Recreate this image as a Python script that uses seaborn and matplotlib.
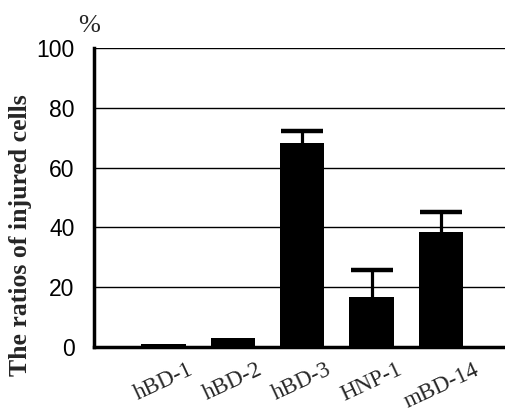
import numpy as np
import matplotlib.pyplot as plt
import seaborn as sns

peptides = ["hBD-1", "hBD-2", "hBD-3", "HNP-1", "mBD-14"]
ratios = [1.0, 3.0, 68.3, 16.7, 38.3]
upper_err = [0.0, 0.0, 4.0, 9.0, 7.0]
yticks = [0, 20, 40, 60, 80, 100]

sns.set_style("white")
plt.rcParams["font.family"] = ["Liberation Sans", "DejaVu Sans"]

fig = plt.figure(figsize=(5.05, 4.17), dpi=100)
ax = fig.add_axes([0.186, 0.168, 0.814, 0.717])

sns.barplot(x=peptides, y=ratios, color="black", width=0.64,
            edgecolor="black", linewidth=0, ax=ax, zorder=3)

# upper error bars only
x = np.arange(len(peptides))
tops = np.array(ratios) + np.array(upper_err)
mask = np.array(upper_err) > 0
ax.vlines(x[mask], np.array(ratios)[mask], tops[mask], color="black",
          linewidth=2.3, zorder=4)
ax.hlines(tops[mask], x[mask] - 0.3, x[mask] + 0.3, color="black",
          linewidth=3.2, zorder=4)

ax.set_ylim(0, 100)
ax.set_xlim(-1.0, 4.92)
ax.set_yticks(yticks)
ax.yaxis.grid(True, color="black", linewidth=1.0, zorder=0)
ax.set_axisbelow(True)

for side in ["top", "right"]:
    ax.spines[side].set_visible(False)
for side in ["left", "bottom"]:
    ax.spines[side].set_linewidth(2.5)
    ax.spines[side].set_color("black")

ax.tick_params(axis="y", labelsize=16.5, length=0, pad=14, colors="black")
ax.tick_params(axis="x", length=0, pad=9)
for lbl in ax.get_xticklabels():
    lbl.set_fontfamily("Liberation Serif")
    lbl.set_fontsize(16.5)
    lbl.set_rotation(25)
    lbl.set_ha("center")
    lbl.set_rotation_mode("default")

ax.set_ylabel("The ratios of injured cells", fontfamily="Liberation Serif",
              fontweight="bold", fontsize=18.5)
ax.yaxis.set_label_coords(-0.15, 0.375)
ax.text(-0.012, 1.035, "%", transform=ax.transAxes, fontsize=19,
        fontfamily="Liberation Serif", ha="center", va="bottom")

fig.savefig("out.png", dpi=100)
